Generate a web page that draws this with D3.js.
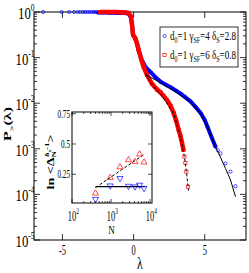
<!DOCTYPE html>
<html>
<head>
<meta charset="utf-8">
<script src="https://cdn.jsdelivr.net/npm/d3@7"></script>
<style>
  body { margin: 0; background: #fff; }
  svg { display: block; }
  text { font-family: "Liberation Serif", "Times New Roman", serif; fill: #000; }
</style>
</head>
<body>
<svg></svg>
<script>
// main panel: lambda vs log10 P_>(lambda)
const blueHeadLam = [-6.36, -5.06, -4.52, -4.18, -3.94, -3.75, -3.56, -3.40, -3.24, -3.10, -2.93, -2.78, -2.64];
const blueHeadLogP = [0, 0, 0, 0, 0, 0, 0, 0, 0, 0, 0, 0, 0];
const blueBandLam = [-2.5, -2.3, -2.1, -1.9, -1.7, -1.5, -1.3, -1.1, -0.9, -0.7, -0.5, -0.35, -0.2, -0.11, -0.04,
    0.12, 0.24, 0.35, 0.5, 0.6, 0.8, 1.0, 1.2, 1.5, 1.9, 2.3, 2.6, 3.0, 3.3, 3.6, 4.0, 4.35, 4.7, 5.0, 5.2, 5.5, 5.75];
const blueBandLogP = [-0.01, -0.01, -0.01, -0.01, -0.015, -0.015, -0.015, -0.02, -0.02, -0.02, -0.025, -0.04, -0.11, -0.29, -0.5,
    -0.58, -0.69, -0.83, -0.98, -1.07, -1.19, -1.26, -1.32, -1.42, -1.53, -1.60, -1.65, -1.73, -1.79, -1.86, -1.96, -2.08, -2.21, -2.37, -2.52, -2.76, -2.95];
const blueTailLam = [5.92, 6.11, 6.46, 6.81, 7.16];
const blueTailLogP = [-3.03, -3.10, -3.32, -3.50, -3.82];

const redBandLam = [-2.35, -2.1, -1.8, -1.5, -1.2, -0.9, -0.6, -0.35, -0.18, -0.11, -0.04, 0.12, 0.24, 0.35, 0.52,
    0.70, 0.94, 1.3, 1.65, 1.88, 2.1, 2.35, 2.6, 2.82, 3.0, 3.17, 3.3, 3.41, 3.5];
const redBandLogP = [0, 0, 0, 0, 0, -0.005, -0.01, -0.02, -0.10, -0.285, -0.50, -0.58, -0.69, -0.83, -1.02,
    -1.20, -1.38, -1.58, -1.70, -1.76, -1.84, -1.93, -2.06, -2.22, -2.39, -2.59, -2.73, -2.88, -3.02];
const redTailLam = [3.57, 3.64, 3.71, 3.83];
const redTailLogP = [-3.17, -3.31, -3.50, -3.83];

// fits (black)
const blueFitLam = [0.85, 1.3, 2.0, 3.0, 4.0, 4.7, 5.2, 5.75, 6.1, 6.46, 6.81, 7.16];
const blueFitLogP = [-1.38, -1.45, -1.57, -1.76, -1.98, -2.23, -2.53, -2.96, -3.18, -3.43, -3.68, -4.05];
const redFitLam = [0.85, 1.41, 2.0, 2.82, 3.17, 3.41, 3.57, 3.71, 3.83, 3.86];
const redFitLogP = [-1.36, -1.64, -1.84, -2.23, -2.60, -2.90, -3.18, -3.50, -3.83, -3.92];

const xTicks = [-5, 0, 5];
const yDecades = [0, -1, -2, -3, -4, -5];
const legendLabels = [
    { d: "0", g: "SF", gv: "4", s: "S", sv: "2.8" },
    { d: "0", g: "SF", gv: "6", s: "S", sv: "0.8" }
];

// inset: ln <Delta_N^(delta_s - 1)> vs N
const insetN = [400, 950, 1700, 2800, 4100, 5400, 7000];
const insetRed = [0.093, 0.222, 0.31, 0.368, 0.354, 0.415, 0.349];
const insetBlue = [0.045, 0.156, 0.217, 0.153, 0.148, 0.162, 0.135];
const insetFitN = [400, 7500];
const insetRedFit = [0.14, 0.42];
const insetBlueFit = [0.148, 0.148];
const insetYTicks = [0.25, 0.5, 0.75];
const insetYLabels = ["0.25", "0.5", "0.75"];
const insetXDecades = [2, 3, 4];

const width = 249, height = 273;
const margin = ({ top: 12, right: 3, bottom: 33, left: 34 });
const blue = "#0000ff", red = "#ff0000";

const svg = d3.select("svg")
    .attr("width", width)
    .attr("height", height);

svg.append("rect").attr("width", width).attr("height", height).attr("fill", "#fff");

const x = d3.scaleLinear()
    .domain([-7, 7.9])
    .range([margin.left, width - margin.right]);

const y = d3.scaleLog()
    .domain([1e-5, 1])
    .range([height - margin.bottom, margin.top]);

const pts = (lam, lp) => d3.zip(lam, lp).map(([l, v]) => [l, Math.pow(10, v)]);
const line = d3.line().x(d => x(d[0])).y(d => y(d[1]));

// frame
svg.append("rect")
    .attr("x", margin.left).attr("y", margin.top)
    .attr("width", width - margin.right - margin.left)
    .attr("height", height - margin.bottom - margin.top)
    .attr("fill", "none").attr("stroke", "#000").attr("stroke-width", 1);

// y ticks (log, inward, both sides)
const yt = svg.append("g").attr("stroke", "#000").attr("stroke-width", 0.8);
y.ticks().forEach(t => {
    const major = Math.abs(Math.log10(t) - Math.round(Math.log10(t))) < 1e-9;
    const len = major ? 6 : 3;
    yt.append("line").attr("x1", x.range()[0]).attr("x2", x.range()[0] + len).attr("y1", y(t)).attr("y2", y(t));
    yt.append("line").attr("x1", x.range()[1]).attr("x2", x.range()[1] - len).attr("y1", y(t)).attr("y2", y(t));
});
// x ticks
xTicks.forEach(t => {
    yt.append("line").attr("x1", x(t)).attr("x2", x(t)).attr("y1", y.range()[0]).attr("y2", y.range()[0] - 6);
    yt.append("line").attr("x1", x(t)).attr("x2", x(t)).attr("y1", y.range()[1]).attr("y2", y.range()[1] + 6);
});

// y tick labels 10^k
yDecades.forEach(k => {
    const t = svg.append("text")
        .attr("transform", `translate(34.5,${y(Math.pow(10, k)) + 7}) scale(0.75,1)`)
        .attr("text-anchor", "end")
        .attr("font-size", 17);
    t.append("tspan").text("10");
    t.append("tspan").attr("dy", -8).attr("font-size", 10).text(String(k));
});

// x tick labels
xTicks.forEach(v => {
    svg.append("text")
        .attr("transform", `translate(${x(v)},255) scale(0.6,1)`)
        .attr("text-anchor", "middle")
        .attr("font-size", 14)
        .text(String(v));
});

// axis titles
svg.append("text")
    .attr("transform", "translate(140,269) scale(0.7,1)")
    .attr("text-anchor", "middle")
    .attr("font-size", 17)
    .text("λ");

const ylab = svg.append("text")
    .attr("transform", "translate(11,124) scale(0.7,1) rotate(-90)")
    .attr("text-anchor", "middle")
    .attr("font-size", 16)
    .attr("font-weight", "bold");
ylab.append("tspan").text("P");
ylab.append("tspan").attr("dy", 4).attr("font-size", 10).text(">");
ylab.append("tspan").attr("dy", -4).text("(λ)");

// blue series
const gBlue = svg.append("g");
gBlue.append("path")
    .datum(pts(blueBandLam, blueBandLogP))
    .attr("d", line).attr("fill", "none").attr("stroke", blue)
    .attr("stroke-width", 4).attr("stroke-linejoin", "round").attr("stroke-linecap", "round");
gBlue.selectAll("circle")
    .data(pts(blueHeadLam, blueHeadLogP).concat(pts(blueBandLam, blueBandLogP), pts(blueTailLam, blueTailLogP)))
    .join("circle")
    .attr("cx", d => x(d[0])).attr("cy", d => y(d[1])).attr("r", 1.6)
    .attr("fill", "none").attr("stroke", blue).attr("stroke-width", 0.7);

// red series
const gRed = svg.append("g");
gRed.append("path")
    .datum(pts(redBandLam, redBandLogP))
    .attr("d", line).attr("fill", "none").attr("stroke", red)
    .attr("stroke-width", 4.5).attr("stroke-linejoin", "round").attr("stroke-linecap", "round");
gRed.selectAll("rect")
    .data(pts(redBandLam, redBandLogP).concat(pts(redTailLam, redTailLogP)))
    .join("rect")
    .attr("x", d => x(d[0]) - 1.6).attr("y", d => y(d[1]) - 1.6)
    .attr("width", 3.2).attr("height", 3.2)
    .attr("fill", "none").attr("stroke", red).attr("stroke-width", 0.7);

// fits
svg.append("path")
    .datum(pts(blueFitLam, blueFitLogP))
    .attr("d", line).attr("fill", "none").attr("stroke", "#000").attr("stroke-width", 1);
svg.append("path")
    .datum(pts(redFitLam, redFitLogP))
    .attr("d", line).attr("fill", "none").attr("stroke", "#000").attr("stroke-width", 1)
    .attr("stroke-dasharray", "3,2");

// legend
const leg = svg.append("g");
leg.append("rect")
    .attr("x", 160).attr("y", 27).attr("width", 78).attr("height", 40)
    .attr("fill", "#fff").attr("stroke", "#000").attr("stroke-width", 0.8);
legendLabels.forEach((L, i) => {
    const cy = 36 + i * 19;
    if (i === 0) {
        leg.append("circle").attr("cx", 164.5).attr("cy", cy).attr("r", 1.6)
            .attr("fill", "none").attr("stroke", blue).attr("stroke-width", 0.7);
    } else {
        leg.append("rect").attr("x", 162.9).attr("y", cy - 1.6).attr("width", 3.2).attr("height", 3.2)
            .attr("fill", "none").attr("stroke", red).attr("stroke-width", 0.7);
    }
    const g = leg.append("g");
    const t = g.append("text").attr("font-size", 12);
    t.append("tspan").text("d");
    t.append("tspan").attr("dy", 3).attr("font-size", 8).text(L.d);
    t.append("tspan").attr("dy", -3).text("=1 γ");
    t.append("tspan").attr("dy", 3).attr("font-size", 8).text(L.g);
    t.append("tspan").attr("dy", -3).text("=" + L.gv + " δ");
    t.append("tspan").attr("dy", 3).attr("font-size", 8).text(L.s);
    t.append("tspan").attr("dy", -3).text("=" + L.sv);
    const w = t.node().getComputedTextLength();
    g.attr("transform", `translate(170,${cy + 4}) scale(${66 / w},1)`);
});

// inset
const ix = d3.scaleLog().domain([100, Math.pow(10, 4.05)]).range([72, 152]);
const iy = d3.scaleLinear().domain([0.013, 0.764]).range([203, 112]);
const ins = svg.append("g");
ins.append("rect")
    .attr("x", 72).attr("y", 112).attr("width", 80).attr("height", 91)
    .attr("fill", "#fff").attr("stroke", "#000").attr("stroke-width", 1);
const it = ins.append("g").attr("stroke", "#000").attr("stroke-width", 0.7);
ix.ticks().forEach(t => {
    const major = Math.abs(Math.log10(t) - Math.round(Math.log10(t))) < 1e-9;
    const len = major ? 4 : 2;
    if (ix(t) > 152.5) return;
    it.append("line").attr("x1", ix(t)).attr("x2", ix(t)).attr("y1", 203).attr("y2", 203 - len);
    it.append("line").attr("x1", ix(t)).attr("x2", ix(t)).attr("y1", 112).attr("y2", 112 + len);
});
insetYTicks.forEach(v => {
    it.append("line").attr("x1", 72).attr("x2", 76).attr("y1", iy(v)).attr("y2", iy(v));
    it.append("line").attr("x1", 152).attr("x2", 148).attr("y1", iy(v)).attr("y2", iy(v));
});
insetYTicks.forEach((v, i) => {
    ins.append("text")
        .attr("transform", `translate(70,${iy(v) + 4}) scale(0.6,1)`)
        .attr("text-anchor", "end").attr("font-size", 12)
        .text(insetYLabels[i]);
});
insetXDecades.forEach(k => {
    const t = ins.append("text")
        .attr("transform", `translate(${ix(Math.pow(10, k)) - 4.2},221) scale(0.6,1)`)
        .attr("font-size", 14);
    t.append("tspan").text("10");
    t.append("tspan").attr("dy", -7).attr("font-size", 9).text(String(k));
});
ins.append("text")
    .attr("transform", "translate(111.5,234) scale(0.75,1)")
    .attr("text-anchor", "middle").attr("font-size", 12)
    .text("N");
const il = ins.append("text")
    .attr("transform", "translate(54,162) scale(0.7,1) rotate(-90)")
    .attr("text-anchor", "middle").attr("font-size", 14).attr("font-weight", "bold");
il.append("tspan").text("ln  <Δ");
il.append("tspan").attr("dy", 3).attr("font-size", 9).text("N");
il.append("tspan").attr("dx", -6).attr("dy", -10).attr("font-size", 9).text("δ");
il.append("tspan").attr("dy", 2).attr("font-size", 6).text("s");
il.append("tspan").attr("dy", -2).attr("font-size", 9).text("-1");
il.append("tspan").attr("dy", 7).text(">");

// inset fits
const iline = d3.line().x(d => ix(d[0])).y(d => iy(d[1]));
ins.append("path").datum(d3.zip(insetFitN, insetRedFit)).attr("d", iline)
    .attr("fill", "none").attr("stroke", "#000").attr("stroke-width", 1).attr("stroke-dasharray", "3,2");
ins.append("path").datum(d3.zip(insetFitN, insetBlueFit)).attr("d", iline)
    .attr("fill", "none").attr("stroke", "#000").attr("stroke-width", 1.2);

// inset markers
const tri = d3.symbol().type(d3.symbolTriangle).size(16);
ins.selectAll(".up").data(d3.zip(insetN, insetRed)).join("path")
    .attr("class", "up").attr("d", tri)
    .attr("transform", d => `translate(${ix(d[0])},${iy(d[1])})`)
    .attr("fill", "none").attr("stroke", red).attr("stroke-width", 0.7);
ins.selectAll(".down").data(d3.zip(insetN, insetBlue)).join("path")
    .attr("class", "down").attr("d", tri)
    .attr("transform", d => `translate(${ix(d[0])},${iy(d[1])}) rotate(180)`)
    .attr("fill", "none").attr("stroke", blue).attr("stroke-width", 0.7);
</script>
</body>
</html>
